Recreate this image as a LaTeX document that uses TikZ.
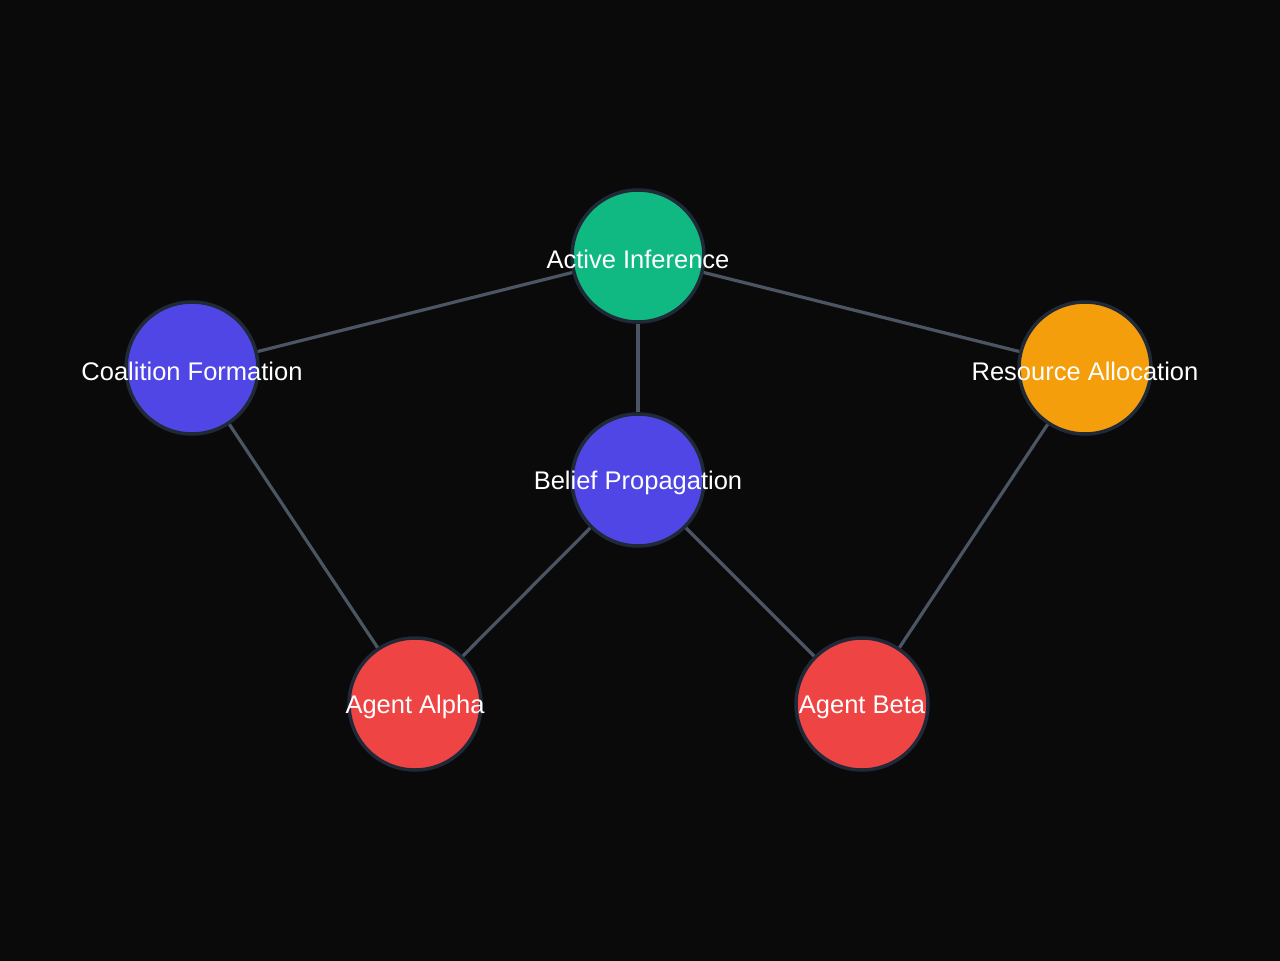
\documentclass[tikz,border=0pt]{standalone}
\usepackage{fontspec}
\setmainfont{Liberation Sans}
\usetikzlibrary{positioning}
\definecolor{bgdark}{HTML}{0A0A0A}
\definecolor{edgegray}{HTML}{4B5563}
\definecolor{ringdark}{HTML}{1F2937}
\definecolor{mgreen}{HTML}{10B981}
\definecolor{mindigo}{HTML}{4F46E5}
\definecolor{mamber}{HTML}{F59E0B}
\definecolor{mred}{HTML}{EF4444}
\tikzset{topic/.style = {circle, draw = ringdark, line width = 3.5, minimum size = 132,
                         inner sep = 0, label = {[text = white, inner sep = 0, yshift = -3,
                         font = \fontsize{25.5}{25.5}\selectfont]center:#1}}}
\tikzset{link/.style = {draw = edgegray, line width = 3.2}}

\begin{document}
\begin{tikzpicture}[x=1pt, y=-1pt]
    \fill [bgdark] (0, 0) rectangle (1280, 961);
    \useasboundingbox (0, 0) rectangle (1280, 961);

    \node [topic = {Active Inference}, fill = mgreen] (active) at (638, 256) {};
    \node [topic = {Coalition Formation}, fill = mindigo] (coalition) at (192, 368) {};
    \node [topic = {Resource Allocation}, fill = mamber] (resource) at (1085, 368) {};
    \node [topic = {Belief Propagation}, fill = mindigo] (belief) at (638, 480) {};
    \node [topic = {Agent Alpha}, fill = mred] (alpha) at (415, 704) {};
    \node [topic = {Agent Beta}, fill = mred] (beta) at (862, 704) {};

    \foreach \a/\b in {active/coalition, active/resource, active/belief,
                       coalition/alpha, resource/beta, belief/alpha, belief/beta} {
      \draw [link] (\a) -- (\b);
    }
  \end{tikzpicture}
\end{document}
